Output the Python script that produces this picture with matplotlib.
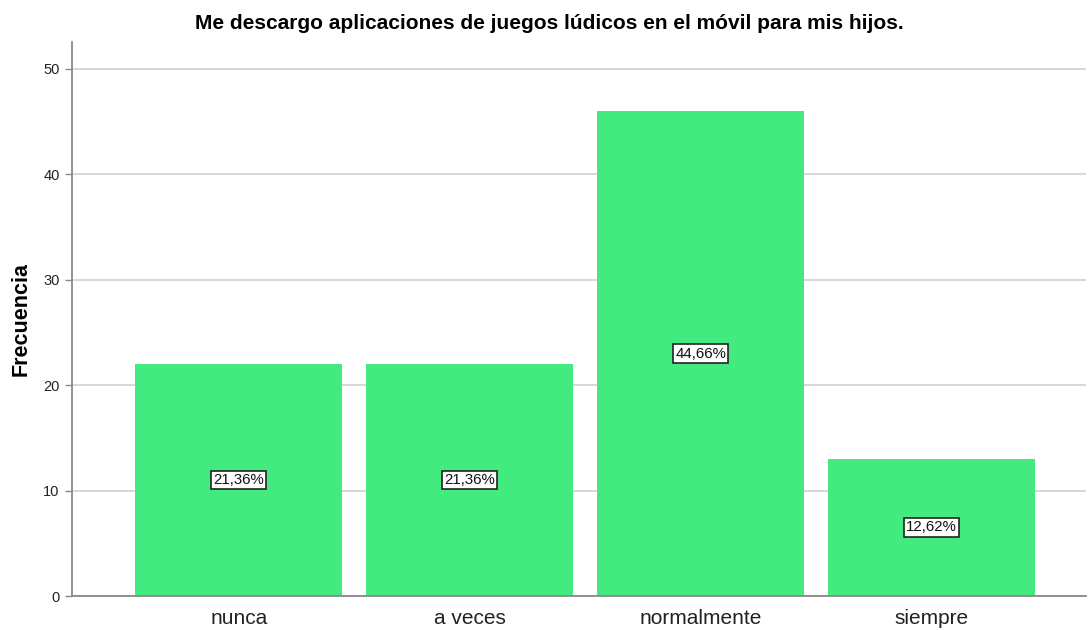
import matplotlib.pyplot as plt
import numpy as np

plt.rcParams['font.family'] = ['Liberation Sans', 'DejaVu Sans']

categories = ['nunca', 'a veces', 'normalmente', 'siempre']
counts = [22, 22, 46, 13]
pct_labels = ['21,36%', '21,36%', '44,66%', '12,62%']
yticks = [0, 10, 20, 30, 40, 50]

fig = plt.figure(figsize=(10.88, 6.3), dpi=100)
ax = fig.add_axes([72/1088, 34/630, 1014/1088, 554/630])

x = np.arange(len(categories))
ax.bar(x, counts, width=0.895, color='#42ea80', zorder=2)

for xi, c, lab in zip(x, counts, pct_labels):
	ax.text(xi, c / 2, lab, ha='center', va='center', fontsize=10.8,
		color='#111111', zorder=3,
		bbox=dict(boxstyle='square,pad=0.15', fc='white', ec='#222222', lw=1.2))

ax.set_xlim(-0.722, 3.668)
ax.set_ylim(0, 52.56)
ax.set_xticks(x)
ax.set_xticklabels(categories, fontsize=15, color='#222222')
ax.set_yticks(yticks)
ax.set_yticklabels([str(t) for t in yticks], fontsize=10.5, color='#222222')
ax.tick_params(axis='x', length=0, pad=9)
ax.tick_params(axis='y', length=5, color='#888888', width=1, pad=4)

ax.yaxis.grid(True, color='#d4d4d4', linewidth=1.3, zorder=0)
ax.set_axisbelow(True)
for s in ['top', 'right']:
	ax.spines[s].set_visible(False)
for s in ['left', 'bottom']:
	ax.spines[s].set_color('#888888')
	ax.spines[s].set_linewidth(1.3)

ax.set_ylabel('Frecuencia', fontsize=15.5, fontweight='bold', labelpad=8)
fig.text(0.505, 0.962, 'Me descargo aplicaciones de juegos lúdicos en el móvil para mis hijos.',
	ha='center', va='center', fontsize=15, fontweight='bold')

fig.savefig('out.png', dpi=100)
